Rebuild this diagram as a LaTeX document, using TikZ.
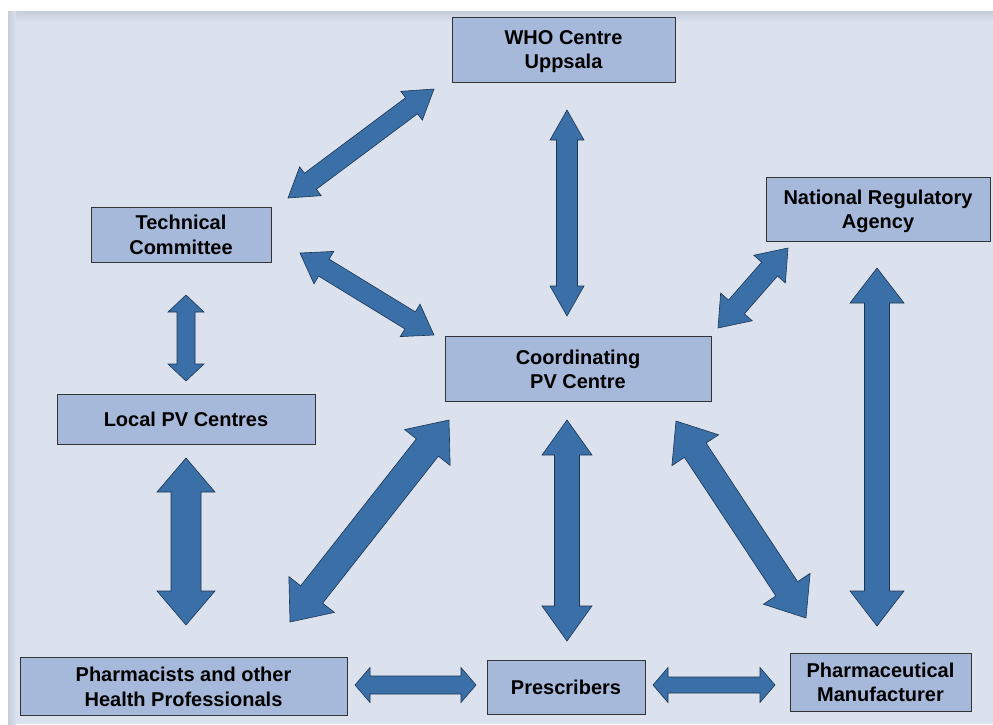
\documentclass[tikz,border=0pt]{standalone}
\usepackage{fontspec}
\setmainfont{Liberation Sans}
\usetikzlibrary{calc}
\definecolor{bgc}{HTML}{DBE2EE}
\definecolor{bgdark}{HTML}{C5CCDA}
\definecolor{boxc}{HTML}{A6B9DA}
\definecolor{arrc}{HTML}{3A6FA8}
\definecolor{arredge}{HTML}{1E3550}
\tikzset{
  box/.style={draw=black!80, line width=0.7pt, fill=boxc, font=\bfseries\fontsize{20}{24.5}\selectfont, align=center, inner sep=0pt, anchor=center, text depth=0pt},
  blockarrow/.style={fill=arrc, draw=arredge, line width=0.6pt, line join=miter}
}
% #1 start, #2 end, #3 shaft half width, #4 head half width, #5 head length
\newcommand\dblarrow[5]{%
  \path[blockarrow] let \p1=(#1), \p2=(#2), \n1={atan2(\y2-\y1,\x2-\x1)}, \n2={veclen(\x2-\x1,\y2-\y1)} in
    [shift={(\p1)}, rotate=\n1]
    (0,0) -- (#5,#4) -- (#5,#3) -- (\n2-#5,#3) -- (\n2-#5,#4) -- (\n2,0)
    -- (\n2-#5,-#4) -- (\n2-#5,-#3) -- (#5,-#3) -- (#5,-#4) -- cycle;}
\begin{document}
\begin{tikzpicture}[x=1pt,y=-1pt]
\useasboundingbox (0,0) rectangle (993,724);
\fill[white] (0,0) rectangle (993,724);
\fill[bgc] (8,11) rectangle (993,724);
\shade[top color=bgdark, bottom color=bgc] (8,11) rectangle (993,22);
\shade[left color=bgdark, right color=bgc] (8,11) rectangle (16,724);

% boxes
\node[box, minimum width=223, minimum height=65] (who) at (563.5,49.5) {WHO Centre\\Uppsala};
\node[box, minimum width=180, minimum height=55] (tech) at (181,234.5) {Technical\\Committee};
\node[box, minimum width=224, minimum height=64] (nra) at (878,209) {National Regulatory\\Agency};
\node[box, minimum width=266, minimum height=65] (coord) at (578,369) {Coordinating\\PV Centre};
\node[box, minimum width=258, minimum height=50] (local) at (186,419.5) {Local PV Centres};
\node[box, minimum width=327, minimum height=58] (pharm) at (183.5,686.5) {Pharmacists and other\\Health Professionals};
\node[box, minimum width=158, minimum height=54] (presc) at (566,687) {Prescribers};
\node[box, minimum width=181, minimum height=58] (manuf) at (880.5,682) {Pharmaceutical\\Manufacturer};

% arrow ends
\coordinate (a1s) at (434,89);   \coordinate (a1e) at (288,198);
\coordinate (a2s) at (567,110);  \coordinate (a2e) at (567,316);
\coordinate (a3s) at (300,253);  \coordinate (a3e) at (434,335);
\coordinate (a4s) at (788,248);  \coordinate (a4e) at (718,328);
\coordinate (a5s) at (877,268);  \coordinate (a5e) at (877,626);
\coordinate (a6s) at (186,295);  \coordinate (a6e) at (186,381);
\coordinate (a7s) at (186,458);  \coordinate (a7e) at (186,625);
\coordinate (a8s) at (449,420);  \coordinate (a8e) at (290,622);
\coordinate (a9s) at (567,420);  \coordinate (a9e) at (567,641);
\coordinate (a10s) at (676,421); \coordinate (a10e) at (806,618);
\coordinate (a11s) at (355,685); \coordinate (a11e) at (476,685);
\coordinate (a12s) at (653,685); \coordinate (a12e) at (775,685);

\dblarrow{a1s}{a1e}{10}{18}{28}
\dblarrow{a2s}{a2e}{10.5}{17}{30}
\dblarrow{a3s}{a3e}{10}{19}{28}
\dblarrow{a4s}{a4e}{10.5}{21}{28}
\dblarrow{a5s}{a5e}{12.5}{27}{35}
\dblarrow{a6s}{a6e}{9}{18}{17}
\dblarrow{a7s}{a7e}{15}{29}{34}
\dblarrow{a8s}{a8e}{14}{29}{35}
\dblarrow{a9s}{a9e}{12.5}{25}{35}
\dblarrow{a10s}{a10e}{13}{28}{35}
\dblarrow{a11s}{a11e}{9}{17.5}{15}
\dblarrow{a12s}{a12e}{8}{17.5}{15}
\end{tikzpicture}
\end{document}
